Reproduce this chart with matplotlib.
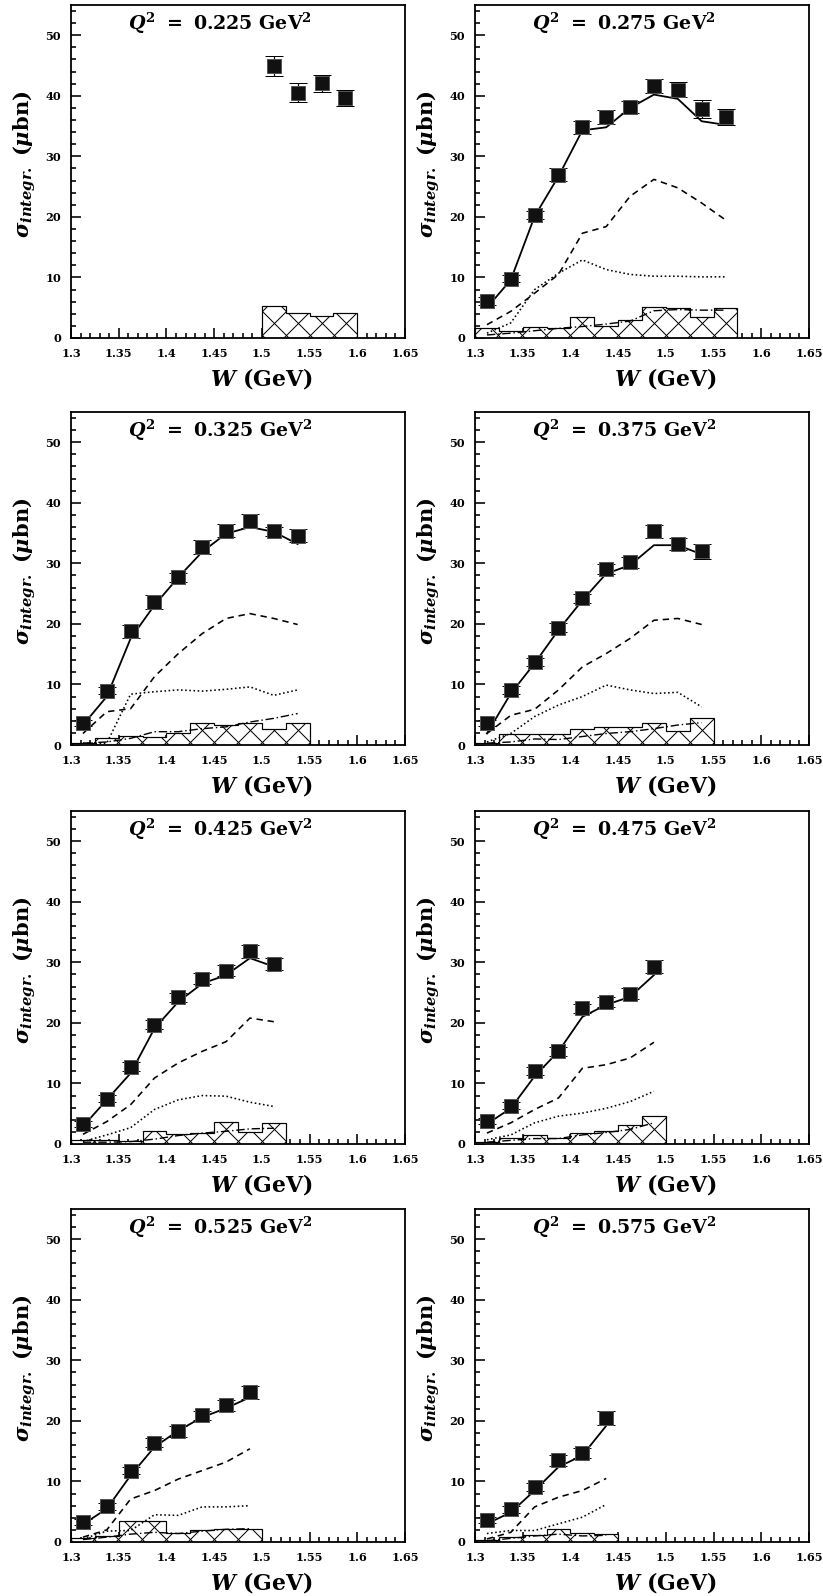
"""Integrated cross sections vs W for eight Q^2 bins."""

import numpy as np
import matplotlib
matplotlib.use("Agg")
import matplotlib.pyplot as plt
from matplotlib.collections import LineCollection
from matplotlib.transforms import Affine2D
from matplotlib.ticker import MultipleLocator, FuncFormatter

# ---- data ----
Q2 = [0.225, 0.275, 0.325, 0.375, 0.425, 0.475, 0.525, 0.575]

W_CENTERS = [1.3125, 1.3375, 1.3625, 1.3875, 1.4125, 1.4375,
             1.4625, 1.4875, 1.5125, 1.5375, 1.5625, 1.5875]
BIN_WIDTH = 0.025
FIRST_BIN = [8, 0, 0, 0, 0, 0, 0, 0]

SIGMA = [
    [44.9, 40.5, 42.1, 39.6],
    [6.1, 9.8, 20.3, 27.0, 34.8, 36.5, 38.2, 41.6, 41.0, 37.8, 36.5],
    [3.7, 9.0, 18.8, 23.6, 27.7, 32.7, 35.4, 37.0, 35.3, 34.6],
    [3.6, 9.1, 13.7, 19.4, 24.2, 29.1, 30.2, 35.3, 33.2, 32.0],
    [3.3, 7.5, 12.8, 19.7, 24.2, 27.3, 28.6, 31.8, 29.7],
    [3.8, 6.3, 12.1, 15.3, 22.4, 23.4, 24.8, 29.3],
    [3.3, 5.9, 11.8, 16.4, 18.3, 20.9, 22.6, 24.7],
    [3.7, 5.4, 9.1, 13.5, 14.7, 20.5],
]

SIGMA_ERR = [
    [1.6, 1.6, 1.4, 1.3],
    [0.6, 0.6, 0.7, 1.0, 1.1, 1.1, 1.0, 1.2, 1.2, 1.5, 1.3],
    [0.5, 0.6, 1.1, 1.1, 0.7, 1.1, 1.1, 1.1, 0.7, 1.0],
    [0.5, 0.6, 0.6, 0.7, 0.7, 0.8, 0.9, 1.1, 1.0, 1.2],
    [0.5, 0.6, 0.7, 0.7, 0.8, 0.9, 0.9, 1.0, 1.0],
    [0.5, 0.6, 0.7, 0.7, 0.7, 0.8, 0.9, 1.1],
    [0.5, 0.6, 0.6, 0.7, 0.9, 0.8, 0.9, 1.1],
    [0.5, 0.6, 0.7, 0.9, 0.9, 1.1],
]

# systematic uncertainties (hatched histogram)
SYS = [
    [5.3, 4.2, 3.6, 4.2],
    [1.65, 1.2, 1.76, 1.65, 3.5, 1.9, 2.9, 5.2, 5.0, 3.5, 5.0],
    [0.3, 1.1, 1.5, 1.3, 1.9, 3.6, 3.3, 3.6, 2.6, 3.6],
    [0.3, 1.76, 1.76, 1.8, 2.6, 2.9, 3.0, 3.6, 2.3, 4.4],
    [0.7, 0.7, 0.55, 2.2, 1.6, 1.8, 3.6, 2.0, 3.5],
    [0.3, 1.0, 1.5, 1.0, 1.8, 2.1, 3.2, 4.7],
    [0.66, 1.0, 3.4, 3.4, 1.5, 1.9, 2.2, 2.2],
    [0.3, 0.8, 1.2, 2.1, 1.5, 1.4],
]

# model curves (none for the first Q^2 bin)
FIT = [
    [],
    [5.0, 9.6, 20.1, 26.7, 34.3, 34.8, 38.0, 40.2, 39.5, 35.8, 35.2],
    [3.3, 8.0, 17.6, 23.1, 27.7, 31.9, 34.9, 36.0, 35.2, 33.2],
    [1.9, 8.5, 13.5, 19.0, 23.9, 28.3, 29.7, 33.0, 33.0, 31.5],
    [2.9, 7.3, 11.7, 19.1, 23.5, 26.5, 27.9, 30.7, 29.3],
    [3.3, 5.9, 11.2, 15.3, 21.0, 23.0, 24.3, 27.9],
    [2.9, 5.5, 11.0, 15.7, 18.4, 20.6, 22.1, 23.9],
    [3.0, 4.9, 8.5, 12.4, 14.3, 19.2],
]
DASHED = [
    [],
    [2.2, 4.4, 7.4, 10.5, 17.3, 18.4, 23.4, 26.2, 24.8, 22.3, 19.5],
    [1.9, 5.5, 6.0, 11.3, 15.1, 18.4, 20.9, 21.7, 20.9, 19.9],
    [1.9, 4.9, 5.9, 9.1, 12.9, 15.1, 17.6, 20.6, 20.9, 19.9],
    [1.6, 3.7, 6.5, 10.9, 13.4, 15.3, 16.9, 20.8, 20.2],
    [1.8, 3.5, 5.7, 7.6, 12.5, 13.1, 14.2, 16.8],
    [0.8, 2.0, 7.1, 8.5, 10.4, 11.8, 13.2, 15.4],
    [0.5, 1.6, 5.8, 7.4, 8.5, 10.5],
]
DOTTED = [
    [],
    [0.8, 2.5, 8.0, 10.7, 12.9, 11.3, 10.5, 10.2, 10.2, 10.1, 10.1],
    [0.3, 0.3, 8.4, 8.8, 9.1, 8.9, 9.2, 9.6, 8.2, 9.1],
    [0.5, 1.9, 4.7, 6.6, 8.0, 9.9, 9.1, 8.5, 8.7, 6.3],
    [0.4, 1.5, 2.7, 5.7, 7.3, 8.0, 7.9, 6.9, 6.2],
    [0.7, 1.5, 3.5, 4.6, 5.1, 5.9, 7.0, 8.7],
    [0.5, 1.8, 1.9, 4.5, 4.4, 5.8, 5.8, 6.0],
    [1.4, 1.9, 1.9, 3.0, 4.1, 6.2],
]
DASHDOT = [
    [],
    [0.5, 0.8, 1.2, 1.6, 1.9, 2.3, 2.8, 4.5, 4.7, 4.6, 4.6],
    [0.3, 0.5, 1.1, 2.2, 2.2, 2.7, 3.0, 3.8, 4.4, 5.2],
    [0.3, 0.5, 1.0, 0.9, 1.4, 1.9, 2.2, 2.7, 3.3, 3.7],
    [0.3, 0.3, 0.4, 0.8, 1.4, 1.8, 2.1, 2.5, 2.6],
    [0.3, 0.6, 0.9, 0.9, 1.5, 1.9, 2.4, 3.5],
    [0.4, 0.8, 1.3, 1.6, 1.4, 1.8, 2.1, 2.2],
    [0.2, 0.6, 1.0, 1.3, 1.0, 1.1],
]

# ---- style ----
plt.rcParams.update({
    'font.family': 'DejaVu Serif',
    'font.weight': 'bold',
    'mathtext.fontset': 'custom',
    'mathtext.rm': 'DejaVu Serif:bold',
    'mathtext.it': 'DejaVu Serif:italic:bold',
    'mathtext.bf': 'DejaVu Serif:bold',
    'axes.linewidth': 0.9,
})

DPI = 144
FIG_W, FIG_H = 823, 1596
AX_W, AX_H = 334, 333
COL_LEFT = [71, 475]
ROW_BOTTOM = [338, 745, 1144, 1542]
HATCH_STEP = 24  # pixels between hatch lines


def fmt(v, pos):
    return f"{v:g}"


def cross_hatch(ax, patch):
    """Coarse diagonal cross-hatching clipped to the histogram outline."""
    px = Affine2D().scale(1 / AX_W, 1 / AX_H) + ax.transAxes
    segs = []
    for c in np.arange(18 - AX_H - HATCH_STEP, AX_W + HATCH_STEP, HATCH_STEP):
        segs.append([(c, 0), (c + AX_H, AX_H)])
    for c in np.arange(2, AX_W + AX_H + HATCH_STEP, HATCH_STEP):
        segs.append([(c, 0), (c - AX_H, AX_H)])
    lc = LineCollection(segs, colors='k', linewidths=0.5, transform=px,
                        zorder=2.5)
    lc.set_clip_path(patch)
    ax.add_collection(lc)


def main():
    fig = plt.figure(figsize=(FIG_W / DPI, FIG_H / DPI), dpi=DPI)

    for i, q in enumerate(Q2):
        row, col = divmod(i, 2)
        ax = fig.add_axes([COL_LEFT[col] / FIG_W,
                           1 - ROW_BOTTOM[row] / FIG_H,
                           AX_W / FIG_W, AX_H / FIG_H])

        n = len(SIGMA[i])
        w = W_CENTERS[FIRST_BIN[i]:FIRST_BIN[i] + n]
        edges = [x - BIN_WIDTH / 2 for x in w] + [w[-1] + BIN_WIDTH / 2]

        # systematic histogram
        patch = ax.stairs(SYS[i], edges, baseline=0, fill=True,
                          facecolor='white', edgecolor='black',
                          linewidth=0.6, zorder=2)
        cross_hatch(ax, patch)

        # model curves
        if FIT[i]:
            ax.plot(w, DASHDOT[i], color='k', lw=0.7, dashes=(6, 2, 1, 2), zorder=3)
            ax.plot(w, DOTTED[i], color='k', lw=0.8, dashes=(1, 1.6), zorder=3)
            ax.plot(w, DASHED[i], color='k', lw=0.8, dashes=(4, 3), zorder=3)
            ax.plot(w, FIT[i], color='k', lw=0.9, zorder=4)

        # data points
        ax.errorbar(w, SIGMA[i], yerr=SIGMA_ERR[i], fmt='s', ms=7,
                    mfc='#111111', mec='#555555', mew=0.5, ecolor='k',
                    elinewidth=0.6, capsize=4.5, capthick=0.6, zorder=5)

        ax.set_xlim(1.3, 1.65)
        ax.set_ylim(0, 55)
        ax.xaxis.set_major_locator(MultipleLocator(0.05))
        ax.xaxis.set_minor_locator(MultipleLocator(0.01))
        ax.yaxis.set_major_locator(MultipleLocator(10))
        ax.yaxis.set_minor_locator(MultipleLocator(2))
        ax.xaxis.set_major_formatter(FuncFormatter(fmt))
        ax.yaxis.set_major_formatter(FuncFormatter(fmt))
        ax.tick_params(which='both', direction='in', top=False, right=False,
                       width=0.8, labelsize=5.7, pad=5)
        ax.tick_params(which='major', length=5)
        ax.tick_params(which='minor', length=2.5)

        ax.text(0.446, 0.927, rf"$Q^2\ =\ {q:.3f}\ \mathrm{{GeV}}^2$",
                transform=ax.transAxes, ha='center', va='baseline', fontsize=9.5)
        ax.text(0.57, -0.144, r"$W$ (GeV)", transform=ax.transAxes,
                ha='center', va='baseline', fontsize=11)
        ax.text(-0.138, 0.52, r"$\sigma_{integr.}$ ($\mu$bn)",
                transform=ax.transAxes, rotation=90, ha='center',
                va='center', fontsize=10.5)

    fig.savefig("out.png", dpi=DPI, facecolor='white')


if __name__ == '__main__':
    main()
